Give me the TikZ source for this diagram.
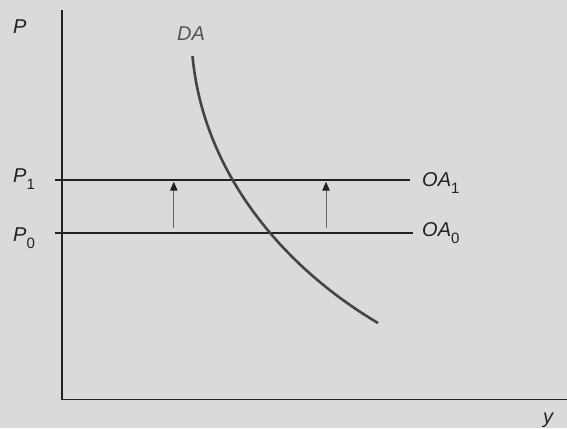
\documentclass[tikz,border=0pt]{standalone}
\usepackage{fontspec}
\setmainfont{Liberation Sans}
\usetikzlibrary{arrows.meta}
\definecolor{bg}{HTML}{DADADA}
\definecolor{ink}{HTML}{222222}
\definecolor{curvec}{HTML}{444444}
\definecolor{darrow}{HTML}{555555}
\definecolor{shaft}{HTML}{666666}
\newcommand{\lowsub}[1]{\raisebox{-7pt}{\fontsize{15}{15}\selectfont\upshape #1}}
\tikzset{
  lbl/.style={font=\fontsize{20}{24}\selectfont\itshape, text=ink, inner sep=0pt, anchor=base west},
  axis/.style={draw=ink, line width=1.5pt},
  level/.style={draw=ink, line width=2.2pt},
  shiftarrow/.style={draw=shaft, line width=1pt, -{Triangle[length=9pt,width=7.5pt,color=ink]}},
}
\begin{document}
\begin{tikzpicture}[x=1pt,y=-1pt]
\fill[bg] (0,0) rectangle (567,428);
\useasboundingbox (0,0) rectangle (567,428);
% axes
\coordinate (ytop) at (62,10);
\coordinate (origin) at (62,399.5);
\coordinate (xend) at (567,399.5);
\draw[axis] (ytop) -- (origin) -- (xend);
% levels
\coordinate (p1s) at (55,180);
\coordinate (p1e) at (410,180);
\coordinate (p0s) at (55,233);
\coordinate (p0e) at (413,233);
\draw[level] (p1s) -- (p1e);
\draw[level] (p0s) -- (p0e);
% shift arrows
\coordinate (a1s) at (173.8,228.3);
\coordinate (a1e) at (173.8,181.7);
\coordinate (a2s) at (326,228.3);
\coordinate (a2e) at (326,181.7);
\draw[shiftarrow] (a1s) -- (a1e);
\draw[shiftarrow] (a2s) -- (a2e);
% demand curve
\coordinate (das) at (192.5,56);
\coordinate (dae) at (378,323);
\draw[curvec, line width=2.6pt] (das) .. controls (203,170) and (280,265) .. (dae);
% labels
\node[lbl] (P) at (13,33.5) {P};
\node[lbl] (y) at (543,423) {y};
\node[lbl, text=darrow] (DA) at (177,40.5) {DA};
\node[lbl] (P1) at (13,182.3) {P\lowsub{1}};
\node[lbl] (P0) at (13,241.5) {P\lowsub{0}};
\node[lbl] (OA1) at (422,186) {OA\lowsub{1}};
\node[lbl] (OA0) at (422,236) {OA\lowsub{0}};
\end{tikzpicture}
\end{document}
